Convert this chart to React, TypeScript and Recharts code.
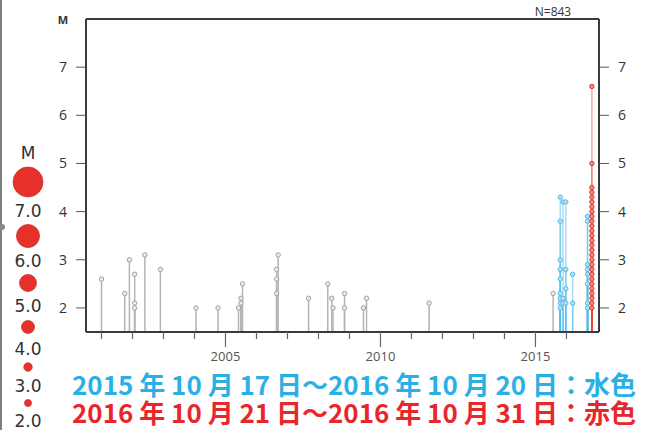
import { ComposedChart, ReferenceLine, Scatter, XAxis, YAxis } from "recharts";

// Events: t = decimal year, m = magnitude
const GRAY_EVENTS = [
  { t: 2001.0, m: 2.6 },
  { t: 2001.75, m: 2.3 },
  { t: 2001.9, m: 3.0 },
  { t: 2002.07, m: 2.7 },
  { t: 2002.07, m: 2.1 },
  { t: 2002.07, m: 2.0 },
  { t: 2002.4, m: 3.1 },
  { t: 2002.9, m: 2.8 },
  { t: 2004.05, m: 2.0 },
  { t: 2004.76, m: 2.0 },
  { t: 2005.42, m: 2.0 },
  { t: 2005.5, m: 2.2 },
  { t: 2005.5, m: 2.1 },
  { t: 2005.55, m: 2.5 },
  { t: 2006.65, m: 2.8 },
  { t: 2006.65, m: 2.6 },
  { t: 2006.65, m: 2.3 },
  { t: 2006.7, m: 3.1 },
  { t: 2007.68, m: 2.2 },
  { t: 2008.3, m: 2.5 },
  { t: 2008.43, m: 2.2 },
  { t: 2008.47, m: 2.0 },
  { t: 2008.84, m: 2.3 },
  { t: 2008.84, m: 2.0 },
  { t: 2009.45, m: 2.0 },
  { t: 2009.55, m: 2.2 },
  { t: 2011.57, m: 2.1 },
  { t: 2015.57, m: 2.3 },
];

// 2015-10-17 .. 2016-10-20
const BLUE_EVENTS = [
  { t: 2015.8, m: 4.3 },
  { t: 2015.8, m: 3.8 },
  { t: 2015.8, m: 3.0 },
  { t: 2015.8, m: 2.8 },
  { t: 2015.8, m: 2.6 },
  { t: 2015.8, m: 2.3 },
  { t: 2015.8, m: 2.2 },
  { t: 2015.8, m: 2.1 },
  { t: 2015.8, m: 2.0 },
  { t: 2015.89, m: 4.2 },
  { t: 2015.89, m: 2.2 },
  { t: 2015.89, m: 2.1 },
  { t: 2015.98, m: 4.2 },
  { t: 2015.98, m: 2.8 },
  { t: 2015.98, m: 2.4 },
  { t: 2015.98, m: 2.1 },
  { t: 2016.2, m: 2.7 },
  { t: 2016.2, m: 2.1 },
  { t: 2016.68, m: 3.9 },
  { t: 2016.68, m: 3.8 },
  { t: 2016.68, m: 2.9 },
  { t: 2016.68, m: 2.8 },
  { t: 2016.68, m: 2.7 },
  { t: 2016.68, m: 2.5 },
  { t: 2016.68, m: 2.1 },
  { t: 2016.68, m: 2.0 },
];

// 2016-10-21 .. 2016-10-31
const RED_T = 2016.82;
const RED_M = [
  6.6, 5.0, 4.5, 4.4, 4.3, 4.2, 4.1, 4.0, 3.9, 3.8, 3.7, 3.6, 3.5, 3.4, 3.3, 3.2,
  3.1, 3.0, 2.9, 2.8, 2.7, 2.6, 2.5, 2.4, 2.3, 2.2, 2.1, 2.0,
];
const RED_EVENTS = RED_M.map((m) => ({ t: RED_T, m }));

const X_DOMAIN = [2000.5, 2017.05];
const X_TICKS = [2001, 2002, 2003, 2004, 2005, 2006, 2007, 2008, 2009, 2010, 2011, 2012, 2013, 2014, 2015, 2016];
const Y_MIN = 1.5;
const Y_MAX = 8;
const Y_TICKS = [2, 3, 4, 5, 6, 7];

const LEGEND_M = ["7.0", "6.0", "5.0", "4.0", "3.0", "2.0"];
const LEGEND_R = [15, 11.5, 8.5, 6.5, 4.2, 3.5];
const LEGEND_CY = [182, 236, 283, 327, 367, 403];
const LEGEND_TEXT_Y = [217, 267, 312, 355, 392, 427];

const FONT = "'Open Sans', 'DejaVu Sans', sans-serif";
const FRAME = "#3a3a3a";

function dot(stroke: string, fill: string) {
  return (p: any) => <circle cx={p.cx} cy={p.cy} r={2.2} stroke={stroke} strokeWidth={1} fill={fill} />;
}

function YearTick(props: any) {
  const { x, y, payload } = props;
  const major = payload.value % 5 === 0;
  return (
    <g>
      <line x1={x} x2={x} y1={y} y2={y + (major ? 15 : 7)} stroke="#666" strokeWidth={1.2} />
      {major && (
        <text x={x} y={y + 29} textAnchor="middle" fontSize={13} fill="#555" fontFamily={FONT}>
          {payload.value}
        </text>
      )}
    </g>
  );
}

function stems(events: { t: number; m: number }[], color: string, opacity: number, key: string) {
  return events.map((e, i) => (
    <ReferenceLine
      key={key + i}
      yAxisId="left"
      ifOverflow="visible"
      segment={[
        { x: e.t, y: Y_MIN },
        { x: e.t, y: e.m },
      ]}
      stroke={color}
      strokeOpacity={opacity}
      strokeWidth={1.5}
    />
  ));
}

export default function App() {
  const tickStyle = { fontSize: 14, fill: "#333", fontFamily: FONT };
  return (
    <div style={{ position: "absolute", left: 0, top: 0, width: 652, height: 430, background: "#fff" }}>
      <ComposedChart width={652} height={430} margin={{ top: 19, right: 0, bottom: 0, left: 0 }}>
        <XAxis
          dataKey="t"
          type="number"
          domain={X_DOMAIN}
          ticks={X_TICKS}
          interval={0}
          allowDataOverflow
          height={98}
          tickLine={false}
          tickSize={0}
          tickMargin={0}
          tick={<YearTick />}
          axisLine={{ stroke: FRAME, strokeWidth: 2 }}
        />
        <YAxis
          yAxisId="left"
          type="number"
          domain={[Y_MIN, Y_MAX]}
          ticks={Y_TICKS}
          interval={0}
          allowDataOverflow
          width={86}
          tickSize={10}
          tickMargin={9}
          tick={tickStyle}
          tickLine={{ stroke: "#555" }}
          axisLine={{ stroke: FRAME, strokeWidth: 2 }}
        />
        <YAxis
          yAxisId="right"
          orientation="right"
          type="number"
          domain={[Y_MIN, Y_MAX]}
          ticks={Y_TICKS}
          interval={0}
          allowDataOverflow
          width={53}
          tickSize={10}
          tickMargin={9}
          tick={tickStyle}
          tickLine={{ stroke: "#555" }}
          axisLine={{ stroke: FRAME, strokeWidth: 2 }}
        />
        <ReferenceLine yAxisId="left" y={Y_MAX} stroke={FRAME} strokeWidth={2} />
        {stems(GRAY_EVENTS, "#b4b4b4", 1, "g")}
        {stems(BLUE_EVENTS, "#4fbbe9", 0.5, "b")}
        {stems(RED_EVENTS, "#e8453c", 0.45, "r")}
        <Scatter yAxisId="left" data={GRAY_EVENTS} dataKey="m" isAnimationActive={false} shape={dot("#a0a0a0", "#ececec")} />
        <Scatter yAxisId="left" data={BLUE_EVENTS} dataKey="m" isAnimationActive={false} shape={dot("#52b9e8", "#b5e2f6")} />
        <Scatter yAxisId="left" data={RED_EVENTS} dataKey="m" isAnimationActive={false} shape={dot("#e23b30", "#f08a80")} />
      </ComposedChart>

      <svg
        width={652}
        height={430}
        style={{ position: "absolute", left: 0, top: 0, pointerEvents: "none" }}
        fontFamily={FONT}
      >
        <text x={63} y={24} textAnchor="middle" fontSize={11} fontWeight="bold" fill="#333">
          M
        </text>
        <text x={553} y={16} textAnchor="middle" fontSize={12} fill="#333">
          N=843
        </text>

        {/* magnitude size legend */}
        <line x1={1} x2={1} y1={0} y2={430} stroke="#555" strokeWidth={1.5} />
        <circle cx={2} cy={227} r={3} fill="#888" />
        <text x={28} y={159} textAnchor="middle" fontSize={17} fill="#333" fontFamily="'DejaVu Sans', sans-serif">
          M
        </text>
        {LEGEND_M.map((label, i) => (
          <g key={label}>
            <circle cx={28} cy={LEGEND_CY[i]} r={LEGEND_R[i]} fill="#e8302a" stroke="#c8372e" strokeWidth={0.8} />
            <text
              x={28}
              y={LEGEND_TEXT_Y[i]}
              textAnchor="middle"
              fontSize={17}
              fill="#333"
              fontFamily="'DejaVu Sans', sans-serif"
            >
              {label}
            </text>
          </g>
        ))}

        <text
          x={72}
          y={395}
          fontSize={26}
          fontWeight="bold"
          fill="#2bb0e6"
          fontFamily="'Noto Sans CJK JP', sans-serif"
          textLength={564}
          lengthAdjust="spacingAndGlyphs"
        >
          2015 年 10 月 17 日～2016 年 10 月 20 日：水色
        </text>
        <text
          x={72}
          y={423}
          fontSize={26}
          fontWeight="bold"
          fill="#e8272c"
          fontFamily="'Noto Sans CJK JP', sans-serif"
          textLength={564}
          lengthAdjust="spacingAndGlyphs"
        >
          2016 年 10 月 21 日～2016 年 10 月 31 日：赤色
        </text>
      </svg>
    </div>
  );
}
